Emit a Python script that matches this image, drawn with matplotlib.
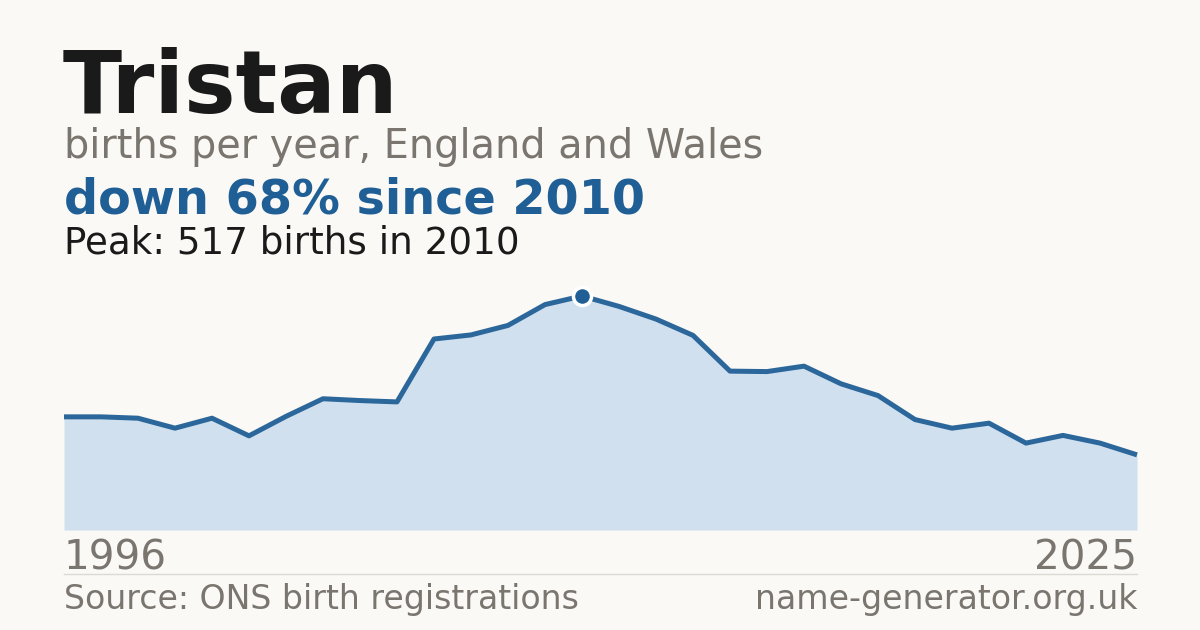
import os
import matplotlib
matplotlib.use("Agg")
import matplotlib.pyplot as plt
from matplotlib.lines import Line2D
from matplotlib.font_manager import FontProperties

ttf_dir = os.path.join(matplotlib.get_data_path(), "fonts", "ttf")
REG = FontProperties(fname=os.path.join(ttf_dir, "DejaVuSans.ttf"))
BOLD = FontProperties(fname=os.path.join(ttf_dir, "DejaVuSans-Bold.ttf"))

name = "Tristan"
subtitle = "births per year, England and Wales"
headline = "down 68% since 2010"
peak_text = "Peak: 517 births in 2010"
source = "Source: ONS birth registrations"
site = "name-generator.org.uk"

years = list(range(1996, 2026))
births = [250, 250, 247, 225, 247, 208, 251, 290, 286, 283,
          422, 431, 452, 498, 517, 494, 466, 430, 351, 350,
          362, 323, 297, 244, 225, 236, 192, 209, 192, 166]

BG = "#faf9f5"
BLUE = "#1f5f95"
LINE = "#2b679b"
FILL = "#d0e0ef"
GRAY = "#7a756e"
DARK = "#1a1a1a"

W, H = 1200, 630
fig = plt.figure(figsize=(W / 100, H / 100), dpi=100, facecolor=BG)

def fx(px):
    return px / W

def fy(py):
    return 1 - py / H

def txt(x, y, s, size, color, bold=False, ha="left"):
    fp = (BOLD if bold else REG).copy()
    fp.set_size(size)
    fig.text(fx(x), fy(y), s, fontproperties=fp, color=color,
             va="baseline", ha=ha)

left, right = 64, 1137
bottom, top = 530, 296
ax = fig.add_axes([fx(left), fy(bottom), fx(right - left), (bottom - top) / H])
ax.set_facecolor("none")
ax.fill_between(years, births, 0, color=FILL, lw=0, zorder=1)
ax.axhline(0, color="#dcdad3", lw=1, zorder=0)
ax.plot(years, births, color=LINE, lw=3.6, solid_joinstyle="round",
        solid_capstyle="butt", zorder=2, clip_on=False)
pi = births.index(max(births))
ax.plot([years[pi]], [births[pi]], "o", ms=13, mfc=BLUE, mec="white",
        mew=2.5, zorder=3, clip_on=False)
ax.set_xlim(years[0], years[-1])
ax.set_ylim(0, max(births))
ax.axis("off")

txt(63, 113, name, 62.5, DARK, bold=True)
txt(64, 158, subtitle, 28.6, GRAY)
txt(64, 214, headline, 34.4, BLUE, bold=True)
txt(64, 254, peak_text, 26.8, DARK)

txt(64, 569, str(years[0]), 29.2, GRAY)
txt(1137, 569, str(years[-1]), 29.2, GRAY, ha="right")

fig.add_artist(Line2D([fx(64), fx(1137)], [fy(574), fy(574)],
                      color="#dcdad3", lw=1, transform=fig.transFigure))

txt(64, 609, source, 23.9, GRAY)
txt(1137, 609, site, 23.9, GRAY, ha="right")

fig.savefig("out.png", dpi=100, facecolor=BG)
